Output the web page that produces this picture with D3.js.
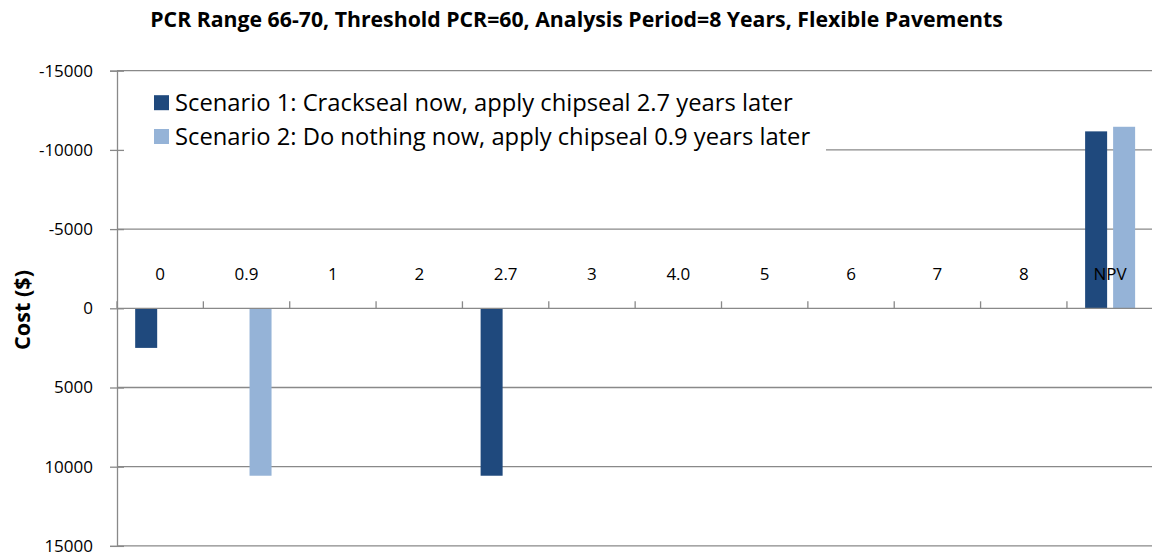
<!DOCTYPE html>
<html>
<head>
<meta charset="utf-8">
<script src="https://cdn.jsdelivr.net/npm/d3@7"></script>
<style>
  html, body { margin: 0; padding: 0; background: #fff; }
  svg { display: block; }
</style>
</head>
<body>
<svg id="chart" width="1152" height="558"></svg>
<script>
// Year labels along the category axis, plus the net present value group
const categories = ["0", "0.9", "1", "2", "2.7", "3", "4.0", "5", "6", "7", "8", "NPV"];
// Cost per year ($); negative NPV values plot upward on the reversed axis
const scenario1 = [2500, 0, 0, 0, 10570, 0, 0, 0, 0, 0, 0, -11170];
const scenario2 = [0, 10570, 0, 0, 0, 0, 0, 0, 0, 0, 0, -11460];
const seriesNames = [
  "Scenario 1: Crackseal now, apply chipseal 2.7 years later",
  "Scenario 2: Do nothing now, apply chipseal 0.9 years later"
];
const yTicks = [-15000, -10000, -5000, 0, 5000, 10000, 15000];
const titleText = "PCR Range 66-70, Threshold PCR=60, Analysis Period=8 Years, Flexible Pavements";
const yTitle = "Cost ($)";

const colors = ["#1F497D", "#95B3D7"];
const gridColor = "#898989";
const font = "'Open Sans', 'Liberation Sans', sans-serif";

const svg = d3.select("#chart");

const plot = { left: 117, right: 1153.3, top: 70.7, bottom: 545.9 };

const x = d3.scaleBand().domain(categories).range([plot.left, plot.right]).padding(0);
const xSub = d3.scaleBand().domain([0, 1]).range([-25, 25]).paddingInner(0.214);
const y = d3.scaleLinear().domain([-15000, 15000]).range([plot.top, plot.bottom]);

// Scale a text node's font size so that it spans the given width
function fitWidth(sel, target) {
  const w = sel.node().getComputedTextLength();
  const fs = parseFloat(sel.attr("font-size"));
  const nfs = fs * target / w;
  sel.attr("font-size", nfs);
  return nfs;
}

// Horizontal gridlines
svg.append("g")
  .selectAll("line")
  .data(yTicks.filter(t => t !== 0))
  .join("line")
  .attr("x1", plot.left).attr("x2", 1152)
  .attr("y1", d => y(d)).attr("y2", d => y(d))
  .attr("stroke", gridColor).attr("stroke-width", 1.3);

// Bars
const rows = categories.map((c, i) => ({ c, vals: [scenario1[i], scenario2[i]] }));
svg.append("g")
  .selectAll("g")
  .data(rows)
  .join("g")
  .selectAll("rect")
  .data(d => d.vals.map((v, s) => ({ c: d.c, v, s })))
  .join("rect")
  .attr("x", d => x(d.c) + x.bandwidth() / 2 + xSub(d.s))
  .attr("width", xSub.bandwidth())
  .attr("y", d => Math.min(y(0), y(d.v)))
  .attr("height", d => Math.abs(y(d.v) - y(0)))
  .attr("fill", d => colors[d.s]);

// Legend (white box over the gridlines)
const legend = svg.append("g");
legend.append("rect")
  .attr("x", 118).attr("y", 77).attr("width", 708).attr("height", 80)
  .attr("fill", "#fff");
const legendItems = legend.selectAll("g.item")
  .data(seriesNames)
  .join("g").attr("class", "item")
  .attr("transform", (d, i) => `translate(154, ${102.7 + i * 33.8})`);
legendItems.append("rect")
  .attr("x", 0).attr("y", -7.5).attr("width", 15).attr("height", 15)
  .attr("fill", (d, i) => colors[i]);
const legendTexts = legendItems.append("text")
  .attr("x", 21).attr("dy", "0.36em")
  .attr("font-family", font).attr("font-size", 20).attr("fill", "#000")
  .text(d => d);
const lfs = fitWidth(d3.select(legendTexts.nodes()[0]), 618);
legendTexts.attr("font-size", lfs);

// Y axis with ticks crossing the axis line
const yAxis = svg.append("g")
  .attr("transform", `translate(${plot.left},0)`)
  .call(d3.axisLeft(y).tickValues(yTicks).tickSize(7).tickPadding(17).tickFormat(d => String(d)));
yAxis.select(".domain").attr("stroke", gridColor).attr("stroke-width", 1.3);
yAxis.selectAll(".tick line").attr("stroke", gridColor).attr("stroke-width", 1.3).attr("x2", 7).attr("x1", -7);
yAxis.selectAll(".tick text")
  .attr("font-family", font).attr("font-size", 17).attr("fill", "#000");

// Category axis along zero, labels above, ticks at category boundaries
const xAxis = svg.append("g")
  .attr("transform", `translate(0,${y(0)})`)
  .call(d3.axisTop(x).tickSize(0).tickPadding(28.5));
xAxis.select(".domain").remove();
xAxis.selectAll(".tick text")
  .attr("font-family", font).attr("font-size", 17).attr("fill", "#000");
xAxis.append("line")
  .attr("x1", plot.left).attr("x2", 1152).attr("y1", 0).attr("y2", 0)
  .attr("stroke", gridColor).attr("stroke-width", 1.3);
xAxis.append("g")
  .selectAll("line")
  .data(d3.range(categories.length + 1).map(i => plot.left + i * x.step()))
  .join("line")
  .attr("x1", d => d).attr("x2", d => d).attr("y1", -7).attr("y2", 0)
  .attr("stroke", gridColor).attr("stroke-width", 1.3);

// Chart title
const title = svg.append("text")
  .attr("x", 576.5).attr("y", 27)
  .attr("text-anchor", "middle")
  .attr("font-family", font).attr("font-weight", "bold").attr("font-size", 16)
  .attr("fill", "#000")
  .text(titleText);
fitWidth(title, 853);

// Y axis title
const yt = svg.append("text")
  .attr("transform", "translate(30,310) rotate(-90)")
  .attr("text-anchor", "middle")
  .attr("font-family", font).attr("font-weight", "bold").attr("font-size", 19)
  .attr("fill", "#000")
  .text(yTitle);
fitWidth(yt, 80);
</script>
</body>
</html>
